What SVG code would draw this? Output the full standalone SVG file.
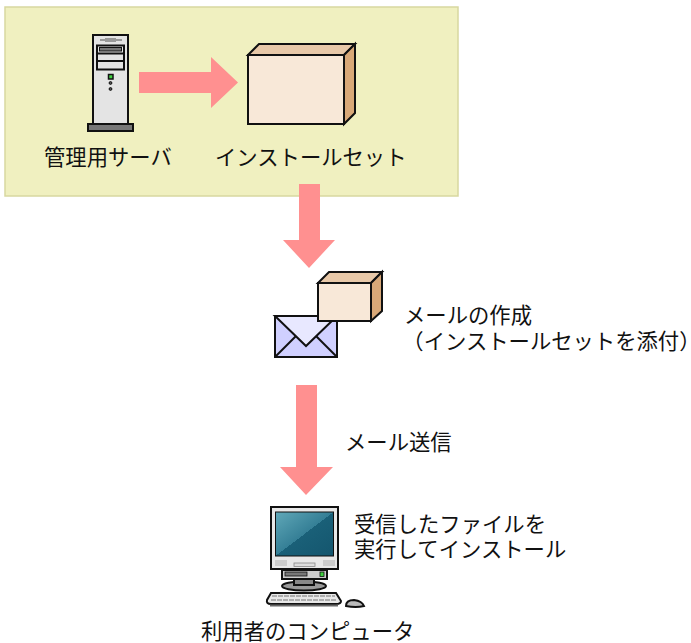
<svg xmlns="http://www.w3.org/2000/svg" width="691" height="643" viewBox="0 0 691 643">
<style>
.t{font-family:"Noto Sans CJK JP","Liberation Sans",sans-serif;font-size:21.33px;fill:#111}
.h{font-feature-settings:"halt"}
.a{fill:#ff9090}
.k{stroke:#111;stroke-width:2;stroke-linejoin:miter}
.f{fill:#f8e8d8}.u{fill:#e8c8a8}.s{fill:#d8a878}
</style>
<rect id="panel" x="5" y="7" width="453" height="189" fill="#f0f0c0" stroke="#d8d8a0" stroke-width="1.5"/>
<g id="connectors">
<polygon class="a" points="139,72 211,72 211,57 238,82.500 211,108 211,93 139,93"/>
<polygon class="a" points="299,184 320,184 320,240 335,240 309,268 283,240 299,240"/>
<polygon class="a" points="296,385 317,385 317,467 333,467 306,495 280,467 296,467"/>
</g>
<g id="server">
<rect class="k" x="93" y="35" width="35" height="89" fill="#e4e4e4"/>
<rect x="100" y="39" width="22" height="2" fill="#999"/><rect x="105" y="38" width="11" height="4" fill="#999"/>
<rect class="k" x="97" y="45.500" width="27" height="24" fill="#e4e4e4"/>
<rect x="99.500" y="47.500" width="22" height="3.500" fill="#777" stroke="#111"/>
<path class="k" d="M97,53.500H124M97,61H124" fill="none"/>
<rect x="108.500" y="74.500" width="4.500" height="4.500" fill="#40d040" stroke="#111" stroke-width="1.500"/>
<circle cx="110.500" cy="83" r="1.400" fill="#555" stroke="#111"/><circle cx="110.500" cy="89" r="1.400" fill="#555" stroke="#111"/>
<rect class="k" x="88" y="124" width="45" height="7" fill="#777"/>
<text class="t" x="44" y="165">管理用サーバ</text>
</g>
<g id="install-set">
<polygon class="k u" points="248,55 259,44 355,44 344,55"/>
<polygon class="k s" points="344,55 355,44 355,113 344,124"/>
<rect class="k f" x="248" y="55" width="96" height="69"/>
<text class="t" x="215" y="165">インストールセット</text>
</g>
<g id="mail">
<rect class="k" x="275" y="316" width="62" height="41" fill="#d0d0ff"/>
<polyline class="k" points="275,357 296,336" fill="none"/><polyline class="k" points="337,357 316,336" fill="none"/>
<polygon class="k" points="275,316 337,316 306,346" fill="#e8e8ff"/>
<polygon class="k u" points="318,283 329,272 382,272 371,283"/>
<polygon class="k s" points="371,283 382,272 382,311 371,321"/>
<rect class="k f" x="318" y="283" width="53" height="38"/>
<text class="t"><tspan x="404" y="323">メールの作成</tspan><tspan x="413" y="349"><tspan class="h">（</tspan>インストールセットを添付<tspan class="h">）</tspan></tspan></text>
</g>
<text id="send" class="t" x="345" y="450">メール送信</text>
<g id="computer">
<defs><linearGradient id="scr" x1="0" y1="0" x2="1" y2="1"><stop offset="0" stop-color="#60a8b8"/><stop offset=".5" stop-color="#357f96"/><stop offset=".5" stop-color="#1a6078"/><stop offset="1" stop-color="#14566e"/></linearGradient></defs>
<rect class="k" x="271" y="507" width="67" height="62" fill="#e8e8e8"/>
<rect x="275.500" y="512" width="58" height="44" fill="url(#scr)" stroke="#111"/>
<rect x="275" y="560" width="12" height="6" fill="#ccc"/><rect x="323" y="560" width="12" height="6" fill="#ccc"/>
<rect x="294" y="563" width="21" height="3.500" fill="#ddd" stroke="#888" stroke-width=".8"/>
<rect class="k" x="282" y="570" width="45" height="9" fill="#ccc"/>
<rect x="285" y="572" width="22" height="4" fill="#777" stroke="#111" stroke-width=".8"/>
<rect x="320" y="572" width="4" height="4.500" fill="#40d040" stroke="#111" stroke-width=".8"/>
<ellipse class="k" cx="304" cy="586" rx="22" ry="4.500" fill="#999"/>
<rect class="k" x="294" y="579" width="20" height="6" fill="#888"/>
<path class="k" d="M271,593H336L341,601Q341,604 336,604H271Q266,604 267,600Z" fill="#e8e8e8"/>
<path d="M272,596H335M271,600H337" stroke="#999" stroke-width="1.600" stroke-dasharray="5 1"/>
<rect x="270" y="604.500" width="68" height="2" fill="#666"/>
<path class="k" d="M346,606Q346,600 354,600Q362,601 364,606Q356,608 346,606Z" fill="#bbb"/>
<text class="t"><tspan x="354" y="532">受信したファイルを</tspan><tspan x="354" y="557">実行してインストール</tspan></text>
<text class="t" x="201" y="639">利用者のコンピュータ</text>
</g>
</svg>
